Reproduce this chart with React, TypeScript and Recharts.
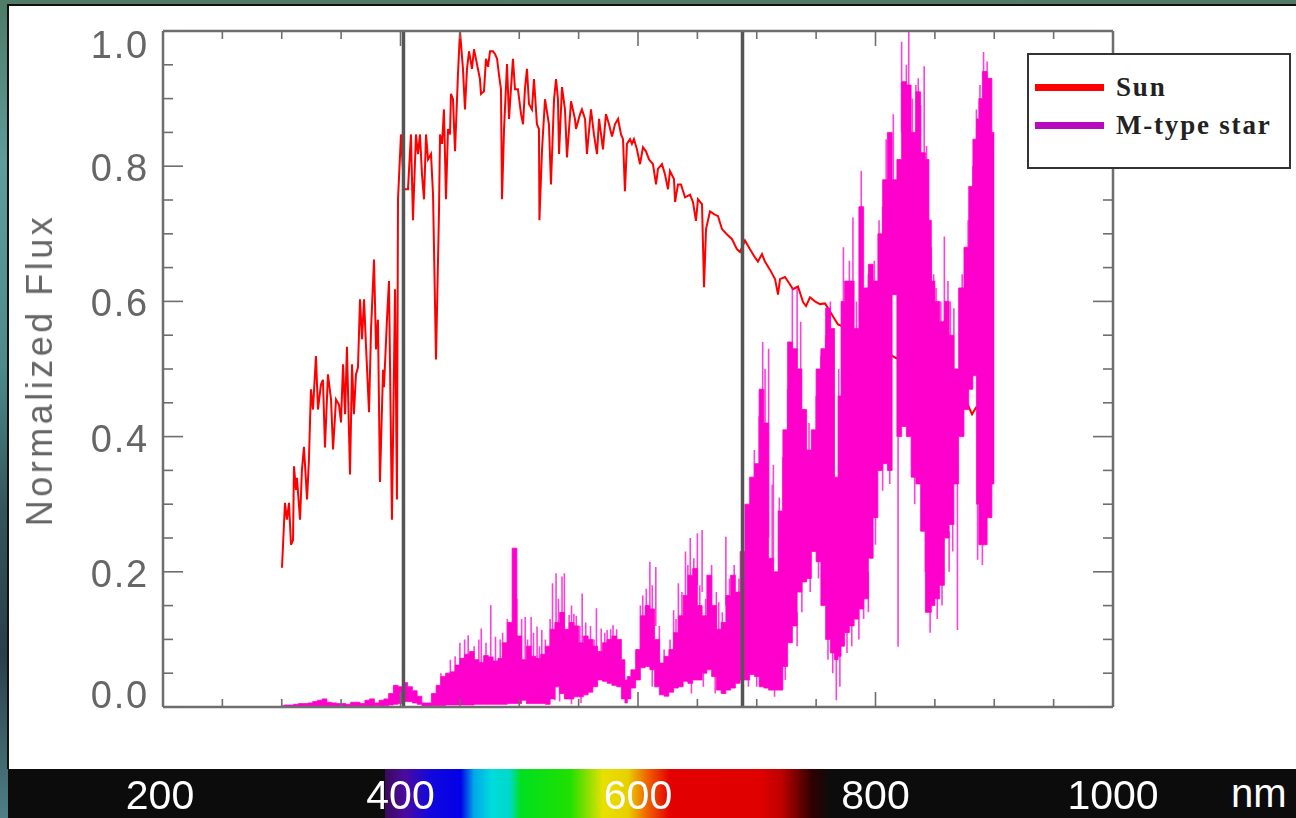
import { ComposedChart, Line, Area, XAxis, YAxis, ReferenceLine } from "recharts"

const X_TICKS = [200,250,300,350,400,450,500,550,600,650,700,750,800,850,900,950,1000]
const X_LABELS = [200,400,600,800,1000]
const Y_TICKS = [0,0.05,0.1,0.15,0.2,0.25,0.3,0.35,0.4,0.45,0.5,0.55,0.6,0.65,0.7,0.75,0.8,0.85,0.9,0.95,1]
const Y_LABELS = [0,0.2,0.4,0.6,0.8,1]
const MARKERS = [402.5, 688]

const sunWave = [
  300.2,301.1,302.7,304.4,306.1,307.8,309.5,310.3,312,312.8,315.4,317,318.7,321.3,322.9,324.6,326.3,328.8,330.5,333,
  334.7,336.4,338.9,341.5,343.2,345.7,348.2,349.9,351.6,353.3,354.9,357.5,359.2,360.8,362.5,364.2,365.9,367.6,369.3,370.9,
  373.5,375.2,377.7,379.4,381,382.7,385.3,386.1,388.6,390.3,392.8,395.4,397,397.9,400.4,403,406.3,408.8,410.5,413,
  414.7,416.4,418.1,419.8,421.5,423.2,425.7,427.4,429.9,432.4,433.3,435,436.6,438.3,440,441.7,442.5,444.2,445.9,448.4,
  450.1,452.6,454.3,456,457.7,460.2,461.9,464.4,466.9,467.8,470.3,472,473.7,475.4,477.9,479.6,481.3,482.9,484.6,485.5,
  487.2,489.7,491.4,493,494.7,496.4,498.9,501.5,503.2,504.8,506.5,508.2,510.7,512.4,514.9,516.6,517,519.2,521.7,525,
  526.7,529.3,531,532.6,533.5,536,538.5,540.2,543.6,546.9,547.8,551.2,552.8,555.4,557,560.4,562.9,565.5,567.2,570.5,
  573,575.6,578.1,580.6,583.2,585.7,587.4,589,590.7,593.3,594.9,596.6,599.1,601.7,604.2,606.7,609.3,612.6,615.2,616.8,
  620.2,622.7,625.3,626.9,630.3,631.2,633.7,636.2,639.6,643.8,646.3,648.8,650.5,653.9,655.6,657.3,660.6,664,667.4,670.7,
  675,679.2,683.4,685.9,690.1,694.3,698.5,701,704.4,706.9,711.1,715.4,717.9,719.6,723.8,728,730.5,734.7,739,741.5,
  744.8,749,753.3,757.5,761.7,765.9,768.4,784.4,791.2,810.5,816.4,829,845.9,862.7,877,881.3,884.6,899.8,
]
const sunFlux = [
  .206,.24,.302,.277,.302,.24,.247,.356,.321,.339,.277,.351,.385,.307,.366,.47,.44,.519,.44,.477,
  .484,.384,.492,.455,.381,.455,.447,.421,.507,.433,.533,.344,.507,.433,.492,.502,.603,.544,.603,.536,
  .436,.559,.662,.529,.573,.333,.499,.473,.573,.63,.277,.618,.307,.751,.847,.766,.766,.847,.72,.847,
  .818,.847,.788,.751,.847,.81,.818,.758,.514,.732,.847,.833,.884,.751,.855,.847,.907,.899,.822,.936,
  1,.944,.884,.944,.97,.944,.973,.951,.929,.907,.911,.959,.947,.97,.97,.966,.959,.936,.914,.751,
  .855,.951,.87,.914,.959,.914,.914,.877,.862,.914,.944,.892,.884,.929,.862,.855,.72,.825,.899,.862,
  .773,.899,.929,.899,.818,.917,.884,.813,.896,.87,.855,.877,.884,.87,.818,.884,.847,.818,.87,.825,
  .877,.862,.844,.862,.87,.847,.84,.763,.833,.84,.833,.84,.825,.803,.828,.822,.81,.803,.773,.796,
  .803,.788,.766,.793,.781,.747,.773,.773,.754,.758,.747,.719,.751,.744,.621,.707,.733,.729,.726,.707,
  .699,.692,.677,.673,.69,.677,.665,.659,.67,.659,.647,.633,.61,.633,.636,.625,.618,.622,.599,.593,
  .606,.6,.596,.597,.585,.573,.566,.554,.539,.524,.517,.507,.484,.462,.45,.433,.443,.44,
]

const mWave = [
  300,304,308,312,316,320,324,328,332,336,340,344,348,352,356,360,364,368,372,376,
  380,384,388,392,396,400,404,408,412,416,420,424,428,432,436,440,444,448,452,456,
  460,464,468,472,476,480,484,488,492,496,500,504,508,512,516,520,524,528,532,536,
  540,544,548,552,556,560,564,568,572,576,580,584,588,590,592,596,600,604,608,612,
  616,620,624,628,632,636,640,644,648,652,656,660,664,668,672,676,680,684,688,692,
  696,700,704,708,712,716,720,724,728,732,736,740,744,748,752,756,760,764,767,770,
  772,776,780,784,788,792,796,800,804,808,812,816,820,824,828,832,836,840,844,846,
  848,852,856,860,864,868,872,877,880,884,886,888,892,896,900,
]
const mLo = [
  0,0,0,0,.001,.001,.001,.001,.001,.001,.001,.001,.001,.001,.001,.001,.001,.001,.001,.001,
  .002,.001,.002,.003,.004,.005,.008,.008,.006,.004,.001,.001,.002,.002,.002,.003,.003,.003,.003,.003,
  .003,.004,.004,.004,.004,.004,.004,.004,.005,.005,.005,.01,.005,.005,.005,.005,.004,.012,.03,.02,
  .012,.012,.015,.015,.018,.022,.03,.04,.038,.035,.032,.03,.012,.006,.012,.028,.04,.058,.06,.055,
  .03,.018,.016,.022,.028,.03,.038,.035,.04,.04,.05,.055,.045,.025,.02,.025,.028,.035,.04,.04,
  .048,.045,.03,.028,.025,.025,.025,.06,.095,.12,.17,.185,.19,.23,.215,.15,.1,.08,.07,.075,
  .09,.11,.12,.13,.145,.16,.22,.28,.35,.36,.35,.61,.4,.415,.4,.34,.33,.26,.14,.14,
  .15,.16,.18,.25,.27,.33,.4,.44,.47,.49,.3,.24,.24,.28,.33,
]
const mHi = [
  .002,.003,.003,.004,.005,.005,.006,.008,.01,.012,.007,.006,.005,.005,.004,.007,.007,.005,.01,.012,
  .006,.01,.012,.02,.032,.03,.036,.03,.024,.016,.006,.006,.02,.032,.045,.05,.052,.062,.072,.078,
  .082,.07,.066,.076,.074,.068,.072,.095,.125,.235,.105,.07,.09,.075,.072,.078,.09,.115,.125,.14,
  .115,.125,.12,.095,.105,.1,.09,.082,.095,.1,.105,.1,.07,.04,.045,.055,.085,.135,.15,.145,
  .1,.065,.075,.085,.11,.135,.165,.195,.205,.15,.135,.195,.15,.115,.125,.165,.195,.17,.23,.3,
  .34,.36,.47,.42,.22,.2,.29,.41,.54,.53,.5,.44,.38,.41,.5,.53,.59,.56,.34,.46,
  .6,.63,.63,.56,.74,.62,.655,.63,.7,.78,.85,.78,.81,.925,.92,.85,.91,.82,.81,.72,
  .63,.6,.57,.6,.55,.5,.62,.68,.77,.84,.87,.9,.94,.93,.85,
]

const spikeWave = [
  434,442,446,450,454,457,462,466,468,472,476,480,484,486,490,498,502,505,507,510,
  512,515,517,519,522,526,528,530,531,533,534,536,538,542,544,544,546,548,551,552,
  553,556,560,563,565,569,572,574,577,579,582,602,604,607,610,612,612,615,618,622,
  627,630,632,634,637,640,642,644,645,647,650,652,654,655,657,662,665,666,668,671,
  674,677,681,685,693,698,700,702,705,707,710,713,714,715,719,722,724,726,730,734,
  734,737,738,744,745,750,752,754,758,760,762,764,767,769,770,773,776,778,780,781,
  784,786,788,790,794,794,799,800,803,806,806,809,812,815,819,822,826,828,831,833,
  834,836,838,841,842,843,846,847,849,851,852,855,856,858,861,862,863,865,866,869,
  873,878,882,885,886,888,890,891,894,
]
const spikeLo = [
  .01,.02,.02,.03,.03,.07,.03,.03,.05,.03,.06,.05,.06,.03,.04,.04,.04,.05,.03,.05,
  .03,.05,.03,.05,.03,.03,.08,.01,.1,.05,.008,.1,.1,.1,.05,.004,.1,.05,.05,.006,
  .08,.05,.05,.05,.08,.08,.05,.08,.05,.08,.05,.06,.1,.07,.12,.07,.03,.12,.05,.03,
  .05,.08,.05,.1,.08,.12,.1,.18,.02,.1,.18,.1,.17,.03,.1,.1,.02,.08,.1,.08,
  .15,.1,.1,.1,.03,.3,.03,.35,.4,.3,.25,.17,.17,.015,.17,.25,.04,.35,.4,.4,
  .09,.4,.14,.3,.17,.3,.19,.3,.4,.07,.4,.05,.01,.3,.03,.45,.08,.5,.09,.55,
  .5,.1,.7,.13,.5,.14,.5,.24,.6,.6,.32,.7,.33,.75,.089,.85,.8,.9,.8,.3,
  .85,.8,.8,.8,.2,.6,.11,.5,.55,.5,.13,.5,.15,.5,.5,.2,.5,.23,.45,.114,
  .5,.6,.7,.8,.218,.8,.21,.9,.9,
]
const spikeHi = [
  .05,.07,.075,.095,.1,.106,.09,.1,.116,.095,.151,.104,.1,.11,.13,.16,.13,.133,.1,.133,
  .11,.119,.09,.114,.1,.13,.183,.04,.198,.16,.03,.193,.198,.136,.15,.02,.138,.135,.12,.02,
  .168,.125,.12,.1,.146,.116,.11,.114,.115,.121,.115,.15,.165,.175,.215,.18,.06,.207,.12,.085,
  .1,.143,.13,.183,.17,.23,.21,.25,.04,.22,.257,.18,.262,.05,.16,.21,.05,.17,.155,.14,
  .252,.19,.21,.19,.08,.38,.06,.43,.54,.5,.53,.329,.358,.04,.31,.37,.08,.47,.62,.62,
  .14,.57,.19,.42,.21,.46,.23,.52,.55,.12,.6,.1,.1,.5,.1,.68,.13,.66,.13,.724,
  .6,.15,.793,.2,.64,.2,.66,.3,.72,.74,.37,.84,.4,.877,.4,.984,.95,1,.9,.36,
  .92,.93,.89,.948,.28,.83,.16,.68,.64,.62,.18,.6,.2,.696,.63,.26,.6,.28,.59,.36,
  .64,.72,.8,.884,.3,.92,.26,.969,.955,
]

const SERIES_SUN = "Sun"
const SERIES_M = "M-type star"

const sunData = sunWave.map((w, i) => ({ w, flux: sunFlux[i] }))
const mData = mWave.map((w, i) => ({ w, range: [mLo[i], mHi[i]] }))
const spikeData = spikeWave.flatMap((w, i) => [
  { w, v: spikeLo[i] },
  { w, v: spikeHi[i] },
  { w, v: null },
])

const AXIS = "#6e6e6e"
const LABEL = "#666"

function xTick(side: "top" | "bottom") {
  return (p: any) => {
    const v = p.payload.value
    const major = X_LABELS.includes(v)
    const len = major ? 15 : 8
    const y2 = side === "bottom" ? p.y - len : p.y + len
    return (
      <g>
        <line x1={p.x} x2={p.x} y1={p.y} y2={y2} stroke={AXIS} strokeWidth={1.6} />
        {side === "bottom" && major && (
          <text x={p.x - (v === 200 ? 3 : 0)} y={809} textAnchor="middle" fill="#fff"
            style={{ fontFamily: "'Liberation Sans'", fontSize: 41 }}>
            {v}
          </text>
        )}
      </g>
    )
  }
}

function yTick(side: "left" | "right") {
  return (p: any) => {
    const v = p.payload.value
    const major = Y_LABELS.includes(v)
    const len = major ? 20 : 10
    const x2 = side === "left" ? p.x + len : p.x - len
    const shift = v === 1 ? 27 : v === 0 ? 1 : 15
    return (
      <g>
        <line x1={p.x} x2={x2} y1={p.y} y2={p.y} stroke={AXIS} strokeWidth={1.6} />
        {side === "left" && major && (
          <text x={p.x - 14} y={p.y + shift} textAnchor="end" fill={LABEL}
            style={{ fontFamily: "'Liberation Sans'", fontSize: 38, letterSpacing: 1.8 }}>
            {v.toFixed(1)}
          </text>
        )}
      </g>
    )
  }
}

function LegendBox() {
  const rows = [
    { name: SERIES_SUN, color: "#ff0000" },
    { name: SERIES_M, color: "#b80cbc" },
  ]
  return (
    <div style={{ position: "absolute", left: 1027, top: 53, width: 260, height: 112, background: "#fff", border: "2px solid #333", boxSizing: "content-box" }}>
      {rows.map((r, i) => (
        <div key={r.name} style={{ position: "absolute", left: 6, top: 17 + i * 38, height: 30, display: "flex", alignItems: "center" }}>
          <span style={{ display: "inline-block", width: 69, height: 7, background: r.color, marginRight: 12 }} />
          <span style={{ fontFamily: "'Liberation Serif'", fontWeight: 700, fontSize: 27, letterSpacing: 1.8, color: "#222", whiteSpace: "nowrap" }}>{r.name}</span>
        </div>
      ))}
    </div>
  )
}

export default function App() {
  return (
    <div style={{
      position: "fixed", left: 0, top: 0, width: 1296, height: 818, overflow: "hidden",
      background: "linear-gradient(180deg,#4f7a66 0%,#5f9c9b 20%,#4d8a8a 45%,#34565a 62%,#2a3f4a 80%,#4f7f86 100%)",
    }}>
      <div style={{ position: "absolute", left: 7, top: 4, width: 1289, height: 765, background: "#fff", borderLeft: "2px solid #111", borderTop: "2px solid #111", boxSizing: "border-box" }} />
      <div style={{ position: "absolute", left: 8, top: 769, width: 1288, height: 49, background: "#0c0c0c" }} />
      <div style={{
        position: "absolute", left: 385, top: 769, width: 445, height: 49,
        background: "linear-gradient(90deg,#3a0a5a 0%,#4b0aa0 4.5%,#1208dc 10%,#0000e8 17%,#00a8e8 20%,#00dcdc 24%,#00d8c8 28%,#00e020 30.5%,#20e000 41.6%,#e8e000 49%,#e8d000 54.6%,#f06000 59%,#e40000 64%,#e00000 84%,#c00000 89%,#300000 96%,#0c0c0c 100%)",
      }} />
      <div style={{ position: "absolute", left: 1231, top: 769, height: 49, lineHeight: "49px", color: "#fff", fontFamily: "'Liberation Sans'", fontSize: 40 }}>nm</div>
      <div style={{ position: "absolute", left: 0, top: 0, filter: "blur(0.6px)" }}>
        <ComposedChart width={1296} height={818} margin={{ left: 162, right: 182, top: 30, bottom: 110 }}>
          <XAxis xAxisId="b" dataKey="w" type="number" domain={[200, 1000]} ticks={X_TICKS} interval={0} height={1}
            tickSize={0} tickMargin={0} tick={xTick("bottom")} axisLine={{ stroke: AXIS, strokeWidth: 2.5 }} allowDataOverflow />
          <XAxis xAxisId="t" orientation="top" dataKey="w" type="number" domain={[200, 1000]} ticks={X_TICKS} interval={0} height={1}
            tickSize={0} tickMargin={0} tick={xTick("top")} axisLine={{ stroke: AXIS, strokeWidth: 2.5 }} allowDataOverflow />
          <YAxis yAxisId="l" type="number" domain={[0, 1]} ticks={Y_TICKS} interval={0} width={1}
            tickSize={0} tickMargin={0} tick={yTick("left")} axisLine={{ stroke: AXIS, strokeWidth: 2.5 }} allowDataOverflow />
          <YAxis yAxisId="r" orientation="right" type="number" domain={[0, 1]} ticks={Y_TICKS} interval={0} width={1}
            tickSize={0} tickMargin={0} tick={yTick("right")} axisLine={{ stroke: AXIS, strokeWidth: 2.5 }} allowDataOverflow />
          <Area xAxisId="b" yAxisId="l" data={sunData} dataKey="flux" name={SERIES_SUN} type="linear" stroke="#ff0000" strokeWidth={2} fill="none" dot={false} isAnimationActive={false} />
          <Area xAxisId="b" yAxisId="l" data={mData} dataKey="range" name={SERIES_M} type="step" stroke="#ff00cc" strokeWidth={0.8} fill="#ff00cc" fillOpacity={1} dot={false} isAnimationActive={false} />
          <Line xAxisId="b" yAxisId="l" data={spikeData} dataKey="v" type="linear" stroke="#ff00cc" strokeOpacity={0.75} strokeWidth={1.6} dot={false} connectNulls={false} legendType="none" isAnimationActive={false} />
          {MARKERS.map((m) => (
            <ReferenceLine key={m} xAxisId="b" yAxisId="l" x={m} stroke="#555" strokeWidth={3.5} />
          ))}
        </ComposedChart>
      </div>
      <LegendBox />
      <div style={{ position: "absolute", left: 40, top: 370, transform: "translate(-50%,-50%) rotate(-90deg)", whiteSpace: "nowrap", color: LABEL, fontFamily: "'Liberation Sans'", fontSize: 36, letterSpacing: 3.5, filter: "blur(0.5px)" }}>
        Normalized Flux
      </div>
    </div>
  )
}
